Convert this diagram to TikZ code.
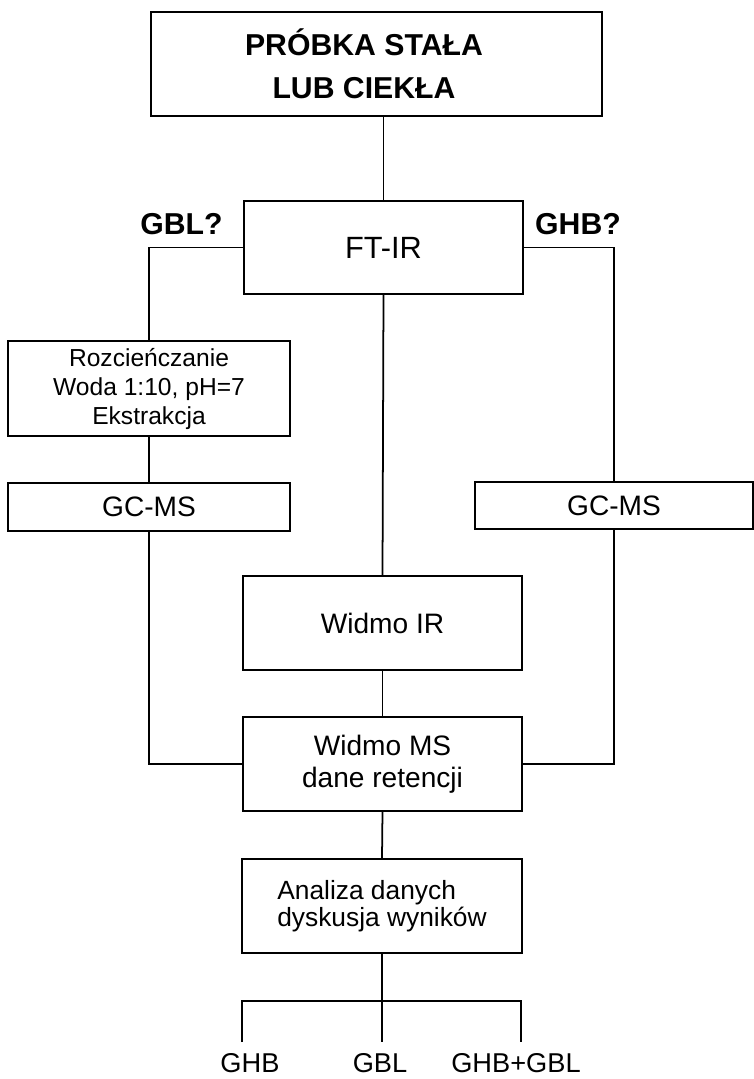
\documentclass[tikz,border=0pt]{standalone}
\usepackage{fontspec}
\setmainfont{Liberation Sans}
\tikzset{
  box/.style={draw, line width=1.1pt, inner sep=0pt, align=center},
  link/.style={line width=1pt},
  wynik/.style={inner sep=0pt, font=\fontsize{15.5}{18}\selectfont},
}

\begin{document}
\begin{tikzpicture}[x=0.02cm, y=-0.02cm]
      \useasboundingbox (0,0) rectangle (754,1079);
      \node[box, minimum width=9.02cm, minimum height=2.08cm, font=\fontsize{17.2}{24.5}\selectfont\bfseries] (probka) at (376.5,64) {PRÓBKA STAŁA\hspace*{0.5cm}\\LUB CIEKŁA\hspace*{0.5cm}};
      \node[box, minimum width=5.58cm, minimum height=1.86cm, font=\fontsize{17.5}{19}\selectfont] (ftir) at (383.5,247.5) {FT-IR};
      \node[font=\fontsize{17.2}{19}\selectfont\bfseries] (gblq) at (181.5,224) {GBL?};
      \node[font=\fontsize{17.2}{19}\selectfont\bfseries] (ghbq) at (578,224) {GHB?};
      \node[box, minimum width=5.64cm, minimum height=1.90cm, font=\fontsize{14}{16.5}\selectfont] (rozc) at (149,388.5) {Rozcieńczanie\\Woda 1:10, pH=7\\Ekstrakcja};
      \node[box, minimum width=5.64cm, minimum height=0.96cm, font=\fontsize{16}{18}\selectfont] (gcl) at (149,507) {GC-MS};
      \node[box, minimum width=5.56cm, minimum height=0.94cm, font=\fontsize{16}{18}\selectfont] (gcr) at (614,505.5) {GC-MS};
      \node[box, minimum width=5.58cm, minimum height=1.88cm, font=\fontsize{16}{18}\selectfont] (wir) at (382.5,623) {Widmo IR};
      \node[box, minimum width=5.58cm, minimum height=1.88cm, font=\fontsize{16}{18}\selectfont] (wms) at (382.5,764) {Widmo MS\\dane retencji};
      \node[box, minimum width=5.60cm, minimum height=1.88cm, align=left, font=\fontsize{15}{15.5}\selectfont] (anal) at (382,906) {Analiza danych\\dyskusja wyników};
      \node[wynik] (wghb) at (250,1063) {GHB};
      \node[wynik] (wgbl) at (380,1063) {GBL};
      \node[wynik] (wboth) at (516,1063) {GHB+GBL};
      % rozgalezienie na dole
      \coordinate (split) at (382,1001);
      \coordinate (dl) at (242,1042);
      \coordinate (dm) at (382,1042);
      \coordinate (dr) at (521,1042);
      \draw[link] (ftir.north) -- (ftir.north |- probka.south);
      \draw[link] (ftir.west) -| (rozc.north);
      \draw[link] (rozc.south) -- (gcl.north);
      \draw[link] (gcl.south) |- (wms.west);
      \draw[link] (ftir.east) -| (gcr.north);
      \draw[link] (gcr.south) |- (wms.east);
      \draw[link] (ftir.south) -- (wir.north);
      \draw[link] (wir.south) -- (wms.north);
      \draw[link] (wms.south) -- (anal.north);
      \draw[link] (anal.south) -- (split);
      \draw[link] (dl) |- (split) -| (dr);
      \draw[link] (split) -- (dm);
\end{tikzpicture}
\end{document}
